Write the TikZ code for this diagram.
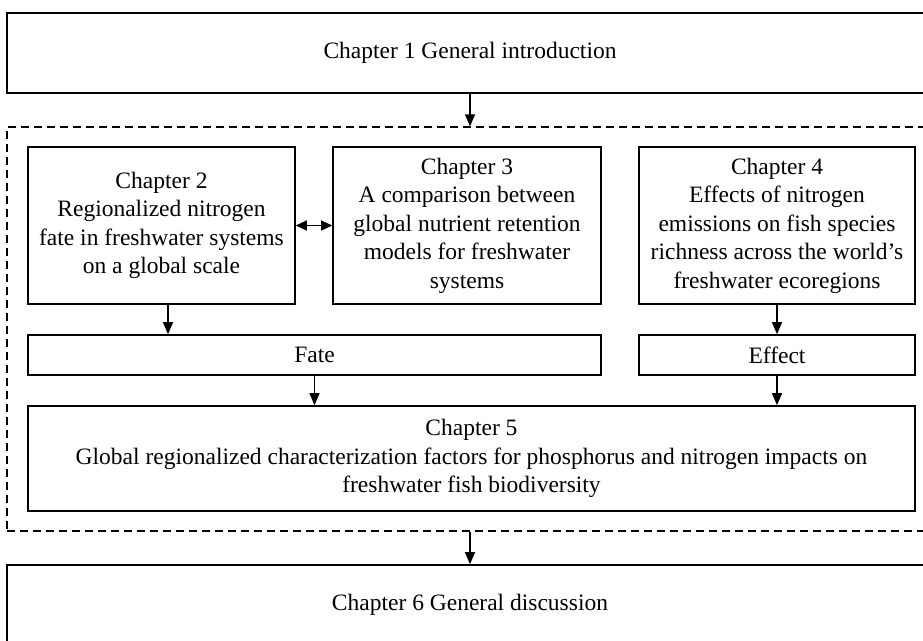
\documentclass[tikz,border=0pt]{standalone}
\usepackage{fontspec}
\setmainfont{Liberation Serif}
\usetikzlibrary{arrows.meta}
\begin{document}
\begin{tikzpicture}[x=1pt,y=1pt,
  box/.style={draw, line width=1.6pt, inner sep=0pt, align=center, font=\fontsize{23.5}{28.5}\selectfont},
  arr/.style={line width=1.3pt, -{Triangle[length=12pt,width=10pt]}},
  darr/.style={line width=1.3pt, {Triangle[length=11pt,width=10pt]}-{Triangle[length=11pt,width=10pt]}},
  dbox/.style={draw, line width=1.3pt, dash pattern=on 8pt off 5pt}]
\useasboundingbox (0,0) rectangle (923,-640);
\clip (0,0) rectangle (923,-640);
\fill[white] (0,0) rectangle (923,-640);
% Chapter 1
\node[box, minimum width=940pt, minimum height=80pt] (ch1) at (477,-53) {\hspace*{-14pt}Chapter 1 General introduction};
% dashed frame
\node[dbox, minimum width=940pt, minimum height=404pt, inner sep=0pt] (frame) at (477,-329) {};
% Chapter 2,3,4
\node[box, minimum width=267pt, minimum height=157pt] (ch2) at (161.5,-225.5) {Chapter 2\\Regionalized nitrogen\\fate in freshwater systems\\on a global scale};
\node[box, minimum width=268pt, minimum height=157pt] (ch3) at (467,-225.5) {Chapter 3\\A comparison between\\global nutrient retention\\models for freshwater\\systems};
\node[box, minimum width=276pt, minimum height=157pt] (ch4) at (777,-225.5) {Chapter 4\\Effects of nitrogen\\emissions on fish species\\richness across the world’s\\freshwater ecoregions};
% Fate / Effect
\node[box, minimum width=573pt, minimum height=40pt] (fate) at (314.5,-355) {Fate};
\node[box, minimum width=276pt, minimum height=40pt] (effect) at (777,-355) {Effect};
% Chapter 5
\node[box, minimum width=887pt, minimum height=105pt] (ch5) at (471.5,-458.5) {Chapter 5\\Global regionalized characterization factors for phosphorus and nitrogen impacts on\\freshwater fish biodiversity};
% Chapter 6
\node[box, minimum width=940pt, minimum height=86pt] (ch6) at (477,-608) {\hspace*{-14pt}\raisebox{12pt}{Chapter 6 General discussion}};
% connectors
\coordinate (topx) at (470,0);
\draw[arr] (ch1.south -| topx) -- (frame.north -| topx);
\draw[darr] (ch2.east) -- (ch3.west);
\coordinate (c2out) at ([xshift=6.5pt]ch2.south);
\draw[arr] (c2out) -- (c2out |- fate.north);
\draw[arr] (ch4.south) -- (effect.north);
\draw[arr] (fate.south) -- (fate.south |- ch5.north);
\draw[arr] (effect.south) -- (effect.south |- ch5.north);
\draw[arr] (frame.south -| topx) -- (ch6.north -| topx);
\end{tikzpicture}
\end{document}
